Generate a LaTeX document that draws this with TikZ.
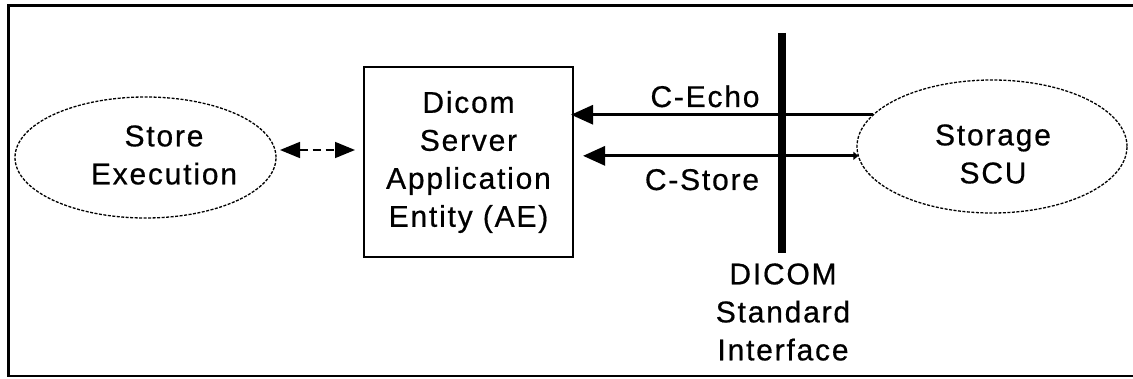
\documentclass[tikz,border=0pt]{standalone}
\usepackage{fontspec}
\setmainfont{Liberation Sans}[LetterSpace=6, FakeBold=0.6]
\usetikzlibrary{arrows.meta,shapes.geometric}
\begin{document}
\begin{tikzpicture}
		    [%%%%%%%%%%%%%%%%%%%%%%%%%%%%%%
		        x=1pt, y=1pt,
		        every node/.style={font=\fontsize{30}{38}\selectfont, align=center},
		        oval/.style={ellipse,draw=black,line width=1.3pt,dash pattern=on 3pt off 1.5pt,outer sep=0pt},
		        proc/.style={rectangle,draw=black,line width=1.6pt,minimum width=209,minimum height=190,outer sep=0pt},
		        msg/.style={line width=3pt},
		        link/.style={line width=1.6pt,dash pattern=on 8pt off 5pt,{Triangle[length=20pt,width=16pt]}-{Triangle[length=20pt,width=16pt]}},
		        wall/.style={line width=8pt},
		    ]%%%%%%%%%%%%%%%%%%%%%%%%%%%%%%
		\useasboundingbox (0,0) rectangle (1133,-379);
		\draw[line width=2.5pt] (8.5,-5.5) rectangle (1145,-376);

		\node[oval, minimum width=261, minimum height=121] (exec) at (145.5,-157.5) {};
		\node (exectext) at (164,-155) {Store\\Execution};

		\node[proc] (box) at (468.5,-162) {Dicom\\Server\\Application\\Entity (AE)};

		\node[oval, minimum width=270, minimum height=133] (scu) at (992,-146.5) {};
		\node (scutext) at (993,-154) {Storage\\SCU};

		\draw[wall] (782,-33) -- (782,-253);
		\node (iface) at (783,-312) {DICOM\\Standard\\Interface};

		\draw[link, shorten <=4pt, shorten >=9pt] (exec.east |- 0,-150) -- (box.west |- 0,-150);
		\draw[msg, -{Triangle[length=22pt,width=19pt]}, shorten >=-2pt] (scu.165) -- (scu.165 -| box.east);
		\draw[msg, {Triangle[length=5pt,width=8pt]}-{Triangle[length=22pt,width=19pt]}, shorten >=10pt] (scu.184) -- (scu.184 -| box.east);

		\node[anchor=base] (echo) at (705,-107) {C-Echo};
		\node[anchor=base] (store) at (702,-190) {C-Store};

		\end{tikzpicture}
\end{document}
